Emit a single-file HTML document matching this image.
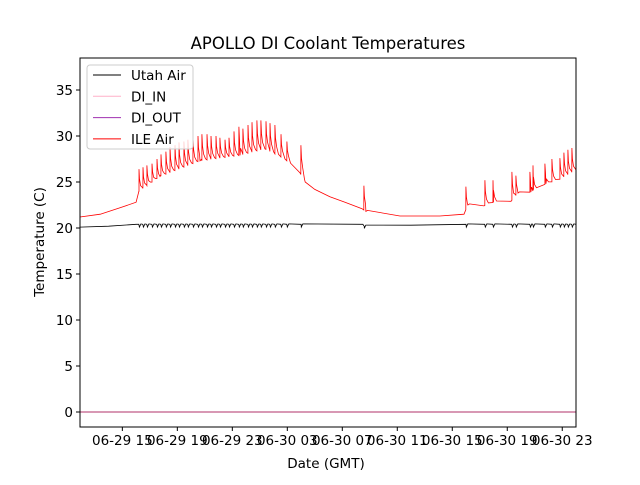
<!DOCTYPE html>
<html><head><meta charset="utf-8"><style>
body{margin:0;background:#fff}
svg text{font-family:"DejaVu Sans","Liberation Sans",sans-serif;fill:#000}
</style></head><body>
<svg id="chart" width="640" height="480" viewBox="0 0 640 480" xmlns="http://www.w3.org/2000/svg">
<rect width="640" height="480" fill="#fff"/>
<text x="328" y="49" font-size="16.5" text-anchor="middle">APOLLO DI Coolant Temperatures</text>
<g id="plot"></g>
<text x="326" y="468" font-size="13.5" text-anchor="middle">Date (GMT)</text>
<text x="0" y="0" font-size="13.5" text-anchor="middle" transform="translate(44,242) rotate(-90)">Temperature (C)</text>
</svg>
<script>
const xTicksH=[15,19,23,27,31,35,39,43,47];
const xTickLabels=["06-29 15","06-29 19","06-29 23","06-30 03","06-30 07","06-30 11","06-30 15","06-30 19","06-30 23"];
const yTicks=[0,5,10,15,20,25,30,35];
const ileBaseT=[11.92,13.4,14.83,16.0,16.21,17.74,20.65,23.56,25.37,26.83,27.92,28.3,29.0,30.1,31.2,32.43,32.72,35.19,38.1,39.85,40.14,41.3,42.0,43.27,43.78,44.72,45.81,46.83,47.99];
const ileBaseV=[21.2,21.5,22.2,22.8,24.0,25.6,27.3,27.9,28.6,27.5,26.0,25.0,24.2,23.4,22.8,22.1,21.8,21.3,21.3,21.5,22.5,22.4,22.8,22.9,23.8,23.9,24.8,25.3,26.3];
const spikeT=[16.21,16.5,16.79,17.16,17.52,17.81,18.17,18.47,18.83,19.12,19.48,19.77,20.14,20.5,20.79,21.16,21.45,21.81,22.1,22.47,22.76,23.12,23.48,23.77,24.14,24.43,24.79,25.08,25.45,25.74,26.1,26.54,26.97,27.99,32.57,39.99,41.37,41.96,43.34,43.63,44.65,44.87,45.74,46.25,46.83,47.12,47.41,47.7];
const spikeV=[26.4,26.6,26.8,27.0,27.5,28.0,28.3,28.8,29.0,29.3,29.4,29.6,29.8,30.0,30.2,30.2,30.0,30.0,29.8,29.6,29.8,30.5,31.0,30.8,31.2,31.5,31.7,31.7,31.6,31.4,31.2,30.2,29.4,29.0,24.6,24.5,25.2,25.2,26.1,25.7,26.1,26.8,27.0,27.5,27.6,28.2,28.5,28.7];
const utahT=[11.92,14.0,16.0,28.0,32.5,32.6,36.0,40.0,48.0];
const utahV=[20.1,20.2,20.4,20.4,20.4,20.2,20.3,20.4,20.4];
const diOutV=0;

const X0=80,X1=576,Y0=58,Y1=427;
const hMin=11.92,hMax=48.0;
const sx=h=>X0+(h-hMin)/(hMax-hMin)*(X1-X0);
const sy=v=>412-v*9.2;
const NS="http://www.w3.org/2000/svg";
const plot=document.getElementById('plot');
function mk(tag,attrs){const e=document.createElementNS(NS,tag);for(const k in attrs)e.setAttribute(k,attrs[k]);plot.appendChild(e);return e;}
function interp(ts,vs,t){if(t<=ts[0])return vs[0];for(let i=1;i<ts.length;i++){if(t<=ts[i]){const f=(t-ts[i-1])/(ts[i]-ts[i-1]);return vs[i-1]+f*(vs[i]-vs[i-1]);}}return vs[vs.length-1];}

let l=mk('line',{x1:X0,x2:X1,y1:sy(diOutV),y2:sy(diOutV),stroke:'#b0306a','stroke-width':1});



let upts=[];
for(let i=0;i<utahT.length;i++)upts.push([utahT[i],utahV[i]]);
spikeT.forEach(t=>{const b=interp(utahT,utahV,t);upts.push([t-0.01,b]);upts.push([t+0.03,b-0.3]);upts.push([t+0.14,b+0.05]);});
upts.sort((a,b)=>a[0]-b[0]);
let up=mk('polyline',{points:upts.map(p=>sx(p[0]).toFixed(1)+','+sy(p[1]).toFixed(1)).join(' '),fill:'none',stroke:'#000','stroke-width':0.8});



let pts=[];
for(let i=0;i<ileBaseT.length;i++)pts.push([ileBaseT[i],ileBaseV[i]]);
spikeT.forEach((t,i)=>{const b=interp(ileBaseT,ileBaseV,t);const d=spikeV[i]-b;
 pts.push([t-0.005,b]);pts.push([t,spikeV[i]]);pts.push([t+0.04,b+0.55*d]);pts.push([t+0.12,b+0.25*d]);pts.push([t+0.26,interp(ileBaseT,ileBaseV,t+0.26)+0.05*d]);});
pts.sort((a,b)=>a[0]-b[0]);
pts=pts.filter(p=>p[0]<=hMax);
let ip=mk('polyline',{points:pts.map(p=>sx(p[0]).toFixed(1)+','+sy(p[1]).toFixed(1)).join(' '),fill:'none',stroke:'#ff0000','stroke-width':0.8});



let fr=mk('rect',{x:X0,y:Y0,width:X1-X0,height:Y1-Y0,fill:'none',stroke:'#000','stroke-width':1});



xTicksH.forEach((h,i)=>{const x=sx(h);
 let t=mk('line',{x1:x,x2:x,y1:Y1,y2:Y1+4,stroke:'#000'});
 
 
 let tx=mk('text',{x:x,y:Y1+18,'font-size':13.5,'text-anchor':'middle'});tx.textContent=xTickLabels[i];
 
 
});
yTicks.forEach(v=>{const y=sy(v);
 let t=mk('line',{x1:X0-4,x2:X0,y1:y,y2:y,stroke:'#000'});
 
 
 let tx=mk('text',{x:X0-7,y:y+5,'font-size':13.5,'text-anchor':'end'});tx.textContent=v;
 
 
});

const legNames=["Utah Air","DI_IN","DI_OUT","ILE Air"];
const legColors=["#000","#ffb0c8","#a030b0","#ff0000"];
let lb=mk('rect',{x:87,y:65,width:106,height:84,rx:3,fill:'#fff','fill-opacity':0.8,stroke:'#ccc'});


legNames.forEach((n,i)=>{const y=75+i*21.3;
 let ln=mk('line',{x1:93,x2:121,y1:y,y2:y,stroke:legColors[i],'stroke-width':1});
 
 
 let tx=mk('text',{x:131,y:y+5,'font-size':13.5});tx.textContent=n;
 
 
});
</script>
</body></html>
